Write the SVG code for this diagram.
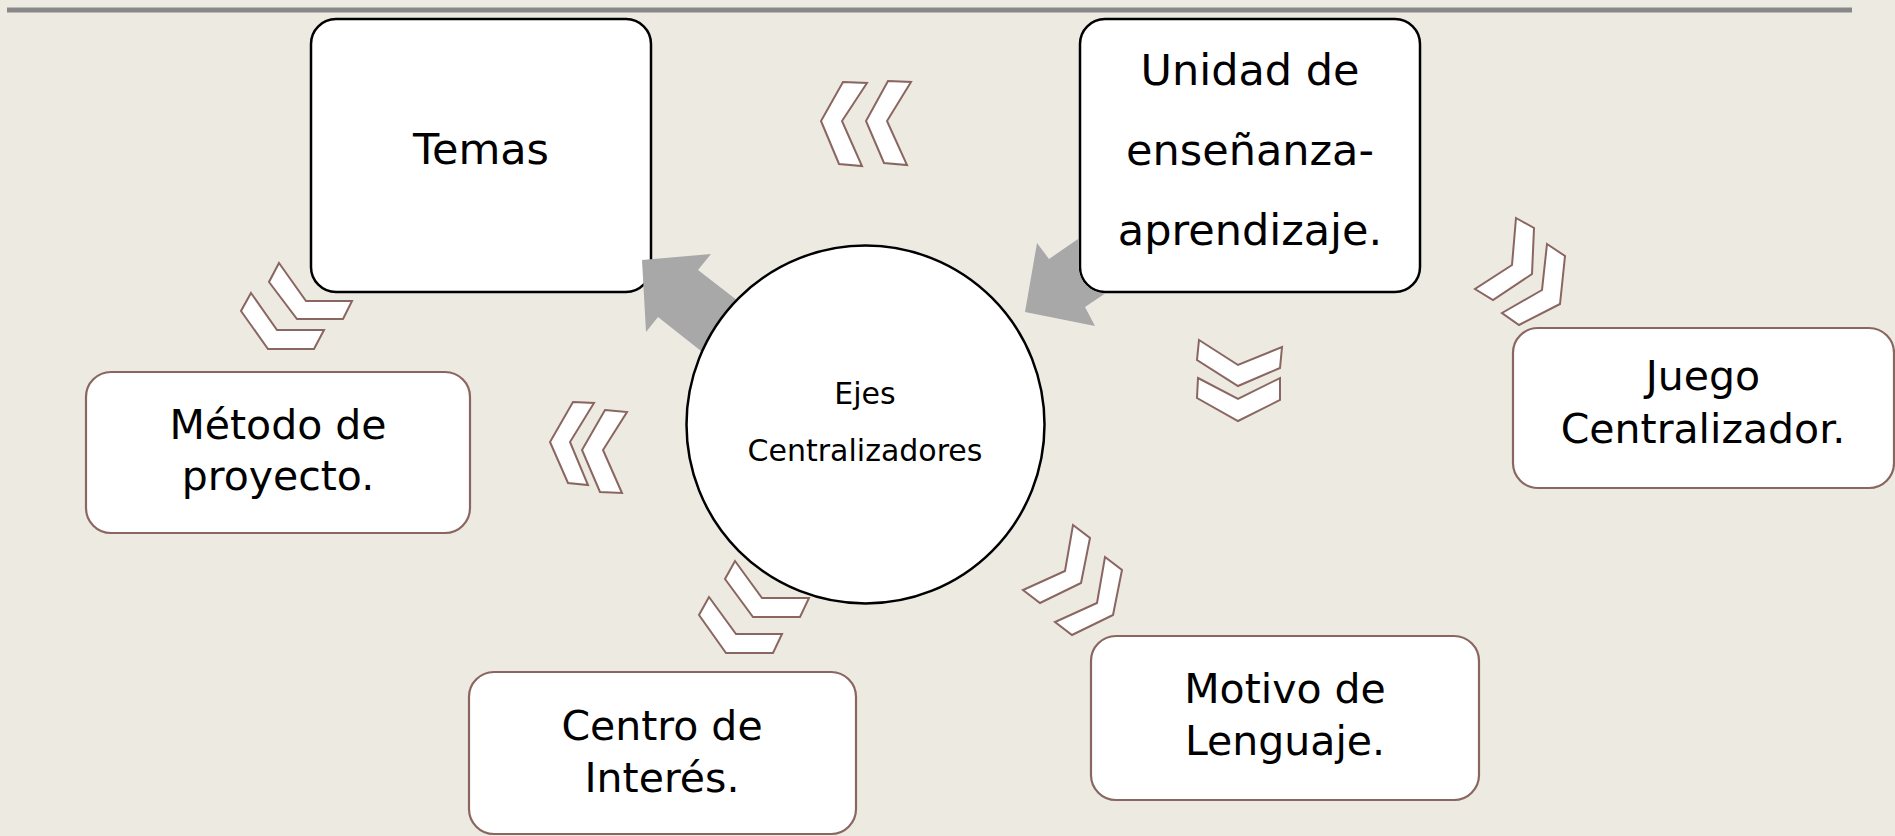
<svg xmlns="http://www.w3.org/2000/svg" width="1895" height="836" viewBox="0 0 1895 836">
<style>
.bg{fill:#EDEAE2}
.bk{fill:#FFFFFF;stroke:#000000;stroke-width:2.5}
.br{fill:#FFFFFF;stroke:#8A6661;stroke-width:2.2}
.ch{fill:#FFFFFF;stroke:#8A6661;stroke-width:2}
.ar{fill:#A8A8A8}
text{font-family:"DejaVu Sans","Verdana","Liberation Sans",sans-serif;fill:#000000;text-anchor:middle}
.t43{font-size:43px}
.t41{font-size:41px}
.t30{font-size:30px}
</style>
<rect class="bg" x="0" y="0" width="1895" height="836"/>
<rect x="7" y="7.5" width="1845" height="5" fill="#888888"/>

<g id="temas">
<rect class="bk" x="311" y="19" width="340" height="273" rx="25" ry="25"/>
<text class="t43" x="481" y="164">Temas</text>
</g>
<g id="unidad">
<rect class="bk" x="1080" y="19" width="340" height="273" rx="25" ry="25"/>
<text class="t43" x="1250" y="85">Unidad de</text>
<text class="t43" x="1250" y="165">enseñanza-</text>
<text class="t43" x="1250" y="245">aprendizaje.</text>
</g>
<g id="metodo">
<rect class="br" x="86" y="372" width="384" height="161" rx="25" ry="25"/>
<text class="t41" x="278" y="439">Método de</text>
<text class="t41" x="278" y="490">proyecto.</text>
</g>
<g id="juego">
<rect class="br" x="1513" y="328" width="381" height="160" rx="25" ry="25"/>
<text class="t41" x="1703" y="390">Juego</text>
<text class="t41" x="1703" y="443">Centralizador.</text>
</g>
<g id="centro">
<rect class="br" x="469" y="672" width="387" height="162" rx="25" ry="25"/>
<text class="t41" x="662" y="740">Centro de</text>
<text class="t41" x="662" y="792">Interés.</text>
</g>
<g id="motivo">
<rect class="br" x="1091" y="636" width="388" height="164" rx="25" ry="25"/>
<text class="t41" x="1285" y="703">Motivo de</text>
<text class="t41" x="1285" y="755">Lenguaje.</text>
</g>

<g id="connectors">
<polygon class="ar" points="642,260 711,254 698,270 760,318 720,366 658,317 646,332"/>
<path class="ar" d="M1025,312 L1037,243 L1049,259 L1078.7,238.5 L1078.7,267 A26.3 26.3 0 0 0 1105,293.3 L1105.5,293.3 L1085,307 L1095,326 Z"/>
<polygon class="ch" points="843,82 867,83 842,121 862,166 839,164 821,121"/>
<polygon class="ch" points="888,81 911,82 887,121 907,165 884,163 866,121"/>
<polygon class="ch" points="1516,218 1534,228 1532,274 1493,300 1475,289 1512,265"/>
<polygon class="ch" points="1547,244 1565,256 1560,304 1519,325 1502,313 1542,290"/>
<polygon class="ch" points="1199,340 1238,365 1282,347 1280,368 1238,386 1197,360"/>
<polygon class="ch" points="1198,378 1238,399 1280,378 1280,400 1238,421 1197,398"/>
<polygon class="ch" points="1073,525 1090,538 1081,583 1040,603 1023,590 1065,571"/>
<polygon class="ch" points="1105,557 1122,570 1113,615 1072,635 1055,622 1097,603"/>
<polygon class="ch" points="735,561 762,598 809,598 800,617 753,617 725,579"/>
<polygon class="ch" points="709,597 736,634 782,634 773,653 726,653 699,615"/>
<polygon class="ch" points="573,402 594,403 570,442 588,485 568,483 550,442"/>
<polygon class="ch" points="605,410 627,412 603,450 622,493 600,492 582,450"/>
<polygon class="ch" points="279,263 306,301 352,301 343,319 297,319 269,282"/>
<polygon class="ch" points="251,293 277,330 324,330 314,349 268,349 241,311"/>
</g>

<g id="ejes">
<circle class="bk" cx="865.5" cy="424.5" r="179"/>
<text class="t30" x="865" y="404">Ejes</text>
<text class="t30" x="865" y="461">Centralizadores</text>
</g>
</svg>
